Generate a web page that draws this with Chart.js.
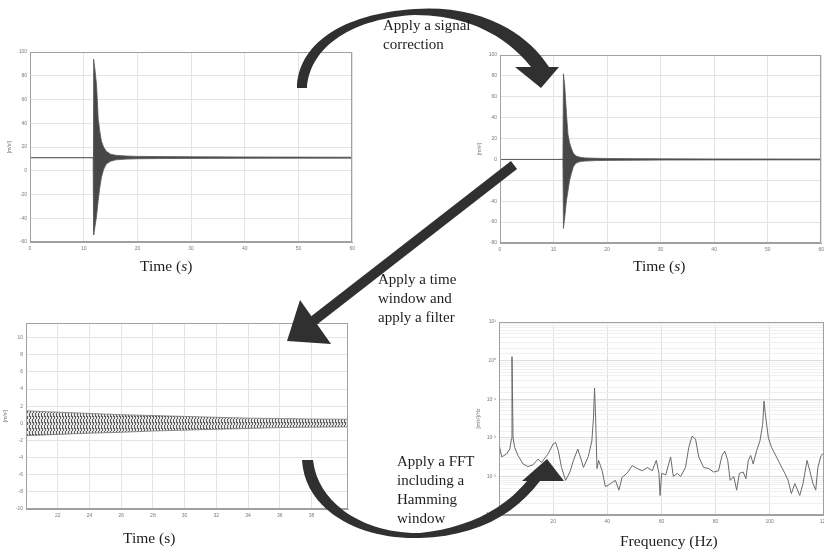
<!DOCTYPE html>
<html>
<head>
<meta charset="utf-8">
<script src="https://cdn.jsdelivr.net/npm/chart.js@4/dist/chart.umd.min.js"></script>
<style>
  html, body { margin:0; padding:0; background:#fff; width:824px; height:550px; overflow:hidden; }
  #wrap { position:relative; width:824px; height:550px; overflow:hidden; }
  canvas { position:absolute; }
  svg { position:absolute; left:0; top:0; z-index:10; pointer-events:none; }
  .txt { position:absolute; z-index:11; font-family:"Liberation Serif", serif; font-size:15px; line-height:19px; color:#1e1e1e; white-space:nowrap; }
  .xl { position:absolute; z-index:11; font-family:"Liberation Serif", serif; font-size:15.5px; color:#1e1e1e; white-space:nowrap; }
</style>
</head>
<body>
<div id="wrap">
  <canvas id="c1"></canvas>
  <canvas id="c2"></canvas>
  <canvas id="c3"></canvas>
  <canvas id="c4"></canvas>

  <svg width="824" height="550" viewBox="0 0 824 550">
    <!-- top arc arrow -->
    <path d="M 297 88 C 298 45, 340 14, 415 9 C 470 5, 522 25, 549 67 L 531 67 C 505 34, 465 15, 415 15 C 355 18, 310 45, 307 88 Z" fill="#303030"/>
    <polygon points="515,67 559,67 541,88" fill="#303030"/>
    <!-- diagonal arrow -->
    <line x1="514" y1="165" x2="312" y2="322" stroke="#303030" stroke-width="10"/>
    <polygon points="287,341 300,300 331,344" fill="#303030"/>
    <!-- bottom arc arrow -->
    <path d="M 302 460 C 305 512, 362 540, 420 538 C 472 536, 512 518, 540 481 L 527 481 C 502 511, 466 528, 420 533 C 366 534, 318 505, 313 460 Z" fill="#303030"/>
    <polygon points="522,481 564,481 547,459" fill="#303030"/>
  </svg>

  <div class="txt" style="left:383px; top:16px;">Apply a signal<br>correction</div>
  <div class="txt" style="left:378px; top:270px;">Apply a time<br>window and<br>apply a filter</div>
  <div class="txt" style="left:397px; top:452px;">Apply a FFT<br>including a<br>Hamming<br>window</div>

  <div class="xl" style="left:140px; top:257px;">Time (<i>s</i>)</div>
  <div class="xl" style="left:633px; top:257px;">Time (<i>s</i>)</div>
  <div class="xl" style="left:123px; top:529px;">Time (s)</div>
  <div class="xl" style="left:620px; top:532px;">Frequency (Hz)</div>
</div>

<script>
// ---------- DATA ----------
// Chart 1: raw signal envelope (time s, upper / lower bound in m/s²)
const raw_t     = [0, 11.75, 11.85, 12.1, 12.4, 12.7, 13.0, 13.3, 13.7, 14.2, 15.0, 16.0, 18, 20, 25, 30, 40, 50, 60];
const raw_upper = [11, 11, 94, 85, 72, 44, 33, 25, 20, 16.5, 14, 13, 12.4, 12.1, 11.9, 11.8, 11.6, 11.5, 11.4];
const raw_lower = [11, 11, -54, -47, -38, -25, -14, -5.6, 1, 5.6, 8, 9.2, 9.8, 10.1, 10.3, 10.4, 10.5, 10.6, 10.6];
const raw_xTicks = [0, 10, 20, 30, 40, 50, 60];
const raw_yTicks = [-60, -40, -20, 0, 20, 40, 60, 80, 100];

// Chart 2: corrected signal envelope
const cor_t     = [0, 11.75, 11.85, 12.1, 12.4, 12.7, 13.0, 13.3, 13.7, 14.2, 15.0, 16.0, 18, 20, 30, 40, 50, 60];
const cor_upper = [0, 0, 82, 70, 45, 24, 16, 11, 6, 3.3, 2, 1.5, 1.1, 0.9, 0.6, 0.5, 0.45, 0.4];
const cor_lower = [0, 0, -66, -55, -40, -30, -20, -14, -7, -3.5, -2, -1.5, -1.1, -0.9, -0.6, -0.5, -0.45, -0.4];
const cor_xTicks = [0, 10, 20, 30, 40, 50, 60];
const cor_yTicks = [-80, -60, -40, -20, 0, 20, 40, 60, 80, 100];

// Chart 3: windowed + filtered signal envelope
const win_t     = [20, 22, 24, 26, 28, 30, 32, 34, 36, 38, 40.3];
const win_upper = [1.45, 1.3, 1.15, 1.0, 0.9, 0.8, 0.7, 0.6, 0.55, 0.5, 0.47];
const win_lower = [-1.45, -1.3, -1.15, -1.05, -0.9, -0.8, -0.7, -0.6, -0.5, -0.45, -0.42];
const win_xTicks = [22, 24, 26, 28, 30, 32, 34, 36, 38];
const win_yTicks = [-10, -8, -6, -4, -2, 0, 2, 4, 6, 8, 10];

// Chart 4: FFT spectrum (Hz, amplitude)
const fft_freq = [0, 1.0, 2.8, 4.0, 4.6, 4.8, 5.2, 5.8, 7.0, 8.9, 10.7, 12.6, 14.4, 15.7, 18.1, 20.0, 20.9, 21.9, 23.1, 24.6, 26.2, 27.5, 29.1, 30.3, 31.2, 33.0, 34.3, 34.9, 35.3, 35.7, 36.2, 36.8, 38.1, 39.3, 41.2, 43.0, 44.3, 45.5, 47.3, 49.2, 51.1, 52.9, 54.8, 56.6, 58.1, 59.1, 59.5, 60.1, 61.6, 63.4, 64.4, 65.9, 67.1, 68.9, 70.1, 71.3, 72.6, 73.8, 75.6, 77.5, 79.3, 81.1, 82.4, 83.4, 84.5, 85.4, 86.7, 87.8, 88.8, 90.2, 91.2, 92.1, 93.0, 93.9, 95.2, 96.4, 97.4, 97.9, 98.4, 99.5, 100.7, 102.5, 103.8, 105.6, 106.8, 108.0, 109.3, 111.1, 112.3, 113.8, 114.8, 116.0, 117.0, 117.8, 119.0, 120];
const fft_amp  = [0.0069, 0.0032, 0.0038, 0.0051, 0.0093, 1.26, 0.010, 0.0056, 0.0035, 0.0021, 0.0018, 0.0020, 0.0028, 0.0023, 0.0038, 0.0069, 0.0076, 0.0047, 0.0017, 0.00079, 0.0013, 0.0026, 0.0051, 0.0028, 0.0017, 0.0033, 0.0083, 0.033, 0.195, 0.032, 0.0016, 0.0026, 0.0014, 0.00054, 0.00065, 0.00079, 0.00044, 0.00095, 0.0012, 0.0019, 0.0016, 0.0014, 0.0017, 0.0014, 0.0026, 0.0012, 0.00032, 0.0012, 0.0011, 0.0032, 0.0010, 0.0012, 0.0010, 0.0017, 0.0056, 0.011, 0.0093, 0.0032, 0.0017, 0.0016, 0.0013, 0.0014, 0.0035, 0.0045, 0.0026, 0.00079, 0.0010, 0.00044, 0.0012, 0.0013, 0.00087, 0.0026, 0.0035, 0.0021, 0.0047, 0.0083, 0.022, 0.089, 0.041, 0.010, 0.0056, 0.0032, 0.0021, 0.0012, 0.00079, 0.00036, 0.00065, 0.00032, 0.00065, 0.0026, 0.0014, 0.00065, 0.00044, 0.0017, 0.0035, 0.004];
const fft_xTicks = [20, 40, 60, 80, 100, 120];

// ---------- HELPERS ----------
const YW = 24, XH = 14, PT = 4, PR = 6;
const frame = {
  id: 'frame',
  afterDraw(c) {
    const a = c.chartArea, ctx = c.ctx;
    ctx.save();
    ctx.strokeStyle = '#a0a0a0';
    ctx.lineWidth = 1;
    ctx.strokeRect(Math.round(a.left) + 0.5, Math.round(a.top) + 0.5, Math.round(a.right - a.left) - 1, Math.round(a.bottom - a.top) - 1);
    ctx.restore();
  }
};
const tickFont = { size: 5, family: 'Liberation Sans' };

// vertical-dash texture used to suggest a dense oscillation
function stripePattern(bg, fg) {
  const off = document.createElement('canvas');
  off.width = 3; off.height = 6;
  const g = off.getContext('2d');
  g.fillStyle = bg; g.fillRect(0, 0, 3, 6);
  g.fillStyle = fg; g.fillRect(0, 0, 1, 4);
  g.fillRect(1, 3, 1, 3);
  return off.getContext('2d').createPattern(off, 'repeat');
}

function place(id, L, T, R, B) {
  const cv = document.getElementById(id);
  const w = (R - L) + YW + PR, h = (B - T) + PT + XH;
  cv.width = w; cv.height = h;
  cv.style.left = (L - YW) + 'px';
  cv.style.top = (T - PT) + 'px';
  cv.style.width = w + 'px'; cv.style.height = h + 'px';
  return cv;
}
function pts(xs, ys) { return xs.map((x, i) => ({ x: x, y: ys[i] })); }

function baseScales(xmin, xmax, xTicks, ymin, ymax, yTicks, ytitle) {
  return {
    x: {
      type: 'linear', min: xmin, max: xmax,
      afterBuildTicks(s) { s.ticks = xTicks.map(v => ({ value: v })); },
      afterFit(s) { s.height = XH; },
      grid: { color: '#e4e4e4', drawTicks: false },
      border: { color: '#a0a0a0' },
      ticks: { font: tickFont, color: '#7a7a7a', padding: 4, maxRotation: 0, autoSkip: false }
    },
    y: {
      type: 'linear', min: ymin, max: ymax,
      afterBuildTicks(s) { s.ticks = yTicks.map(v => ({ value: v })); },
      afterFit(s) { s.width = YW; },
      grid: { color: '#e4e4e4', drawTicks: false },
      border: { color: '#a0a0a0' },
      ticks: { font: tickFont, color: '#7a7a7a', padding: 3, autoSkip: false },
      title: { display: true, text: ytitle, font: { size: 5, family: 'Liberation Sans' }, color: '#7a7a7a', padding: 1 }
    }
  };
}
function bandChart(id, box, xs, up, lo, sc, fillCol, lineCol) {
  const cv = place(id, box[0], box[1], box[2], box[3]);
  return new Chart(cv, {
    type: 'line',
    data: { datasets: [
      { data: pts(xs, up), borderColor: lineCol, borderWidth: 0.8, pointRadius: 0, fill: false, tension: 0 },
      { data: pts(xs, lo), borderColor: lineCol, borderWidth: 0.8, pointRadius: 0, fill: '-1', backgroundColor: fillCol, tension: 0 }
    ]},
    options: {
      responsive: false, animation: false, devicePixelRatio: 1,
      layout: { padding: { top: PT, right: PR, left: 0, bottom: 0 } },
      plugins: { legend: { display: false }, tooltip: { enabled: false } },
      scales: sc
    },
    plugins: [frame]
  });
}

// ---------- CHARTS ----------
bandChart('c1', [30, 50, 353, 242], raw_t, raw_upper, raw_lower,
  baseScales(0, 60, raw_xTicks, -60, 100, raw_yTicks, '[m/s²]'), 'rgba(55,55,55,0.92)', '#5a5a5a');

bandChart('c2', [500, 53, 822, 243], cor_t, cor_upper, cor_lower,
  baseScales(0, 60, cor_xTicks, -80, 100, cor_yTicks, '[m/s²]'), 'rgba(55,55,55,0.92)', '#5a5a5a');

bandChart('c3', [26, 321, 348, 509], win_t, win_upper, win_lower,
  baseScales(20, 40.3, win_xTicks, -10, 11.7, win_yTicks, '[m/s²]'),
  stripePattern('rgba(215,215,215,0.6)', 'rgba(70,70,70,0.85)'), '#777777');

(function () {
  const cv = place('c4', 499, 320, 826, 515);
  const sup = { '-': '⁻', '0': '⁰', '1': '¹', '2': '²', '3': '³', '4': '⁴' };
  const isPow = v => Math.abs(Math.log10(v) - Math.round(Math.log10(v))) < 1e-6;
  new Chart(cv, {
    type: 'line',
    data: { datasets: [
      { data: pts(fft_freq, fft_amp), borderColor: '#6a6a6a', borderWidth: 1, pointRadius: 0, fill: false, tension: 0 }
    ]},
    options: {
      responsive: false, animation: false, devicePixelRatio: 1,
      layout: { padding: { top: PT, right: PR, left: 0, bottom: 0 } },
      plugins: { legend: { display: false }, tooltip: { enabled: false } },
      scales: {
        x: {
          type: 'linear', min: 0, max: 120,
          afterBuildTicks(s) { s.ticks = fft_xTicks.map(v => ({ value: v })); },
          afterFit(s) { s.height = XH; },
          grid: { color: '#e0e0e0', drawTicks: false },
          border: { color: '#a0a0a0' },
          ticks: { font: tickFont, color: '#7a7a7a', padding: 4, maxRotation: 0, autoSkip: false }
        },
        y: {
          type: 'logarithmic', min: 1e-4, max: 10,
          afterFit(s) { s.width = YW; },
          grid: { drawTicks: false, color: ctx => (ctx.tick && isPow(ctx.tick.value)) ? '#dcdcdc' : '#f0f0f0' },
          border: { color: '#a0a0a0' },
          ticks: {
            font: tickFont, color: '#7a7a7a', padding: 3, autoSkip: false,
            callback: v => isPow(v) ? '10' + String(Math.round(Math.log10(v))).split('').map(ch => sup[ch]).join('') : ''
          },
          title: { display: true, text: '[m/s²]/Hz', font: { size: 5, family: 'Liberation Sans' }, color: '#7a7a7a', padding: 1 }
        }
      }
    },
    plugins: [frame]
  });
})();
</script>
</body>
</html>
